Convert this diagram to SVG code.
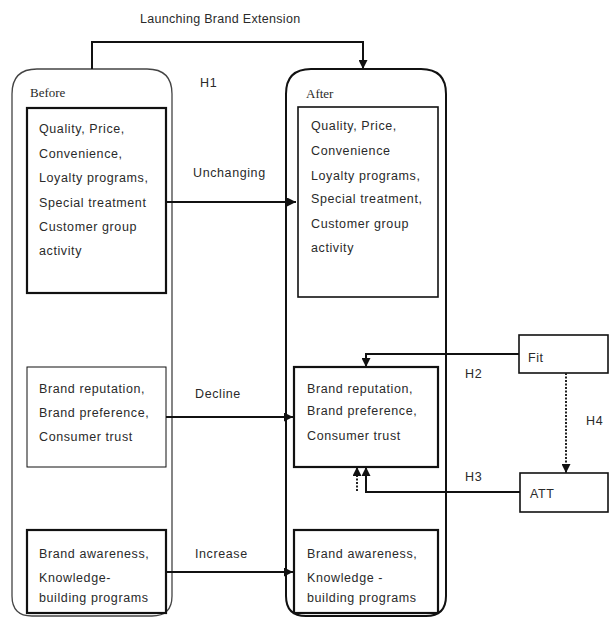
<svg xmlns="http://www.w3.org/2000/svg" width="610" height="619" viewBox="0 0 610 619">
<defs>
<marker id="ah" viewBox="0 0 10 10" refX="10" refY="5" markerWidth="9" markerHeight="9" markerUnits="userSpaceOnUse" orient="auto">
<path d="M0,0 L10,5 L0,10 z" fill="#111"/>
</marker>
</defs>
<style>
text{font-family:"Liberation Sans",Arial,sans-serif;font-size:12.5px;fill:#2a2a2a;letter-spacing:0.6px}
.serif{font-family:"Liberation Serif","Times New Roman",serif;font-size:13px;letter-spacing:0}
.big{fill:none}
.box{fill:#fff;stroke:#111}
.conn{fill:none;stroke:#111;stroke-width:2}
.dot{fill:none;stroke:#222;stroke-width:2;stroke-dasharray:2 1.5}
</style>
<rect width="610" height="619" fill="#fff"/>
<g id="before">
<path class="big" d="M12,94 Q12,69 37,69 L147,69 Q172,69 172,94 L172,596 Q172,616 152,616 L32,616 Q12,616 12,596 Z" stroke="#444" stroke-width="1.3"/>
<text x="30" y="97" class="serif">Before</text>
</g>
<g id="after">
<path class="big" d="M286,94 Q286,69 311,69 L421,69 Q446,69 446,94 L446,596 Q446,616 426,616 L306,616 Q286,616 286,596 Z" stroke="#111" stroke-width="2"/>
<text x="306" y="98" class="serif">After</text>
</g>
<g id="before-core">
<rect class="box" x="27" y="108" width="139" height="185" stroke-width="2.2"/>
<text x="39" y="133">Quality, Price,</text>
<text x="39" y="158">Convenience,</text>
<text x="39" y="182">Loyalty programs,</text>
<text x="39" y="207">Special treatment</text>
<text x="39" y="231">Customer group</text>
<text x="39" y="255">activity</text>
</g>
<g id="after-core">
<rect class="box" x="298" y="107" width="140" height="190" stroke-width="1.6"/>
<text x="311" y="130">Quality, Price,</text>
<text x="311" y="155">Convenience</text>
<text x="311" y="180">Loyalty programs,</text>
<text x="311" y="203">Special treatment,</text>
<text x="311" y="228">Customer group</text>
<text x="311" y="252">activity</text>
</g>
<g id="before-brand">
<rect class="box" x="27" y="367" width="139" height="100" stroke="#555" stroke-width="1"/>
<text x="39" y="393">Brand reputation,</text>
<text x="39" y="417">Brand preference,</text>
<text x="39" y="441">Consumer trust</text>
</g>
<g id="after-brand">
<rect class="box" x="294" y="367" width="144" height="100" stroke-width="2.2"/>
<text x="307" y="393">Brand reputation,</text>
<text x="307" y="415">Brand preference,</text>
<text x="307" y="440">Consumer trust</text>
</g>
<g id="before-aware">
<rect class="box" x="27" y="530" width="139" height="83" stroke-width="2.2"/>
<text x="39" y="558">Brand awareness,</text>
<text x="39" y="582">Knowledge-</text>
<text x="39" y="602">building programs</text>
</g>
<g id="after-aware">
<rect class="box" x="294" y="530" width="144" height="83" stroke-width="2.2"/>
<text x="307" y="558">Brand awareness,</text>
<text x="307" y="582">Knowledge -</text>
<text x="307" y="602">building programs</text>
</g>
<g id="fit">
<rect class="box" x="519" y="335" width="89" height="38" stroke-width="1.6"/>
<text x="528" y="362">Fit</text>
</g>
<g id="att">
<rect class="box" x="520" y="473" width="88" height="39" stroke-width="1.6"/>
<text x="530" y="498">ATT</text>
</g>
<g id="connectors">
<path class="conn" d="M92,69 L92,42 L363,42 L363,69" marker-end="url(#ah)"/>
<path class="conn" d="M166,202 L296,202" marker-end="url(#ah)" stroke-width="1.6"/>
<path class="conn" d="M166,417 L293,417" marker-end="url(#ah)" stroke-width="1.6"/>
<path class="conn" d="M166,572 L293,572" marker-end="url(#ah)" stroke-width="1.6"/>
<path class="conn" d="M519,354 L366,354 L366,367" marker-end="url(#ah)"/>
<path class="conn" d="M520,492 L366,492 L366,467" marker-end="url(#ah)"/>
<path class="dot" d="M357,491 L357,467" marker-end="url(#ah)"/>
<path class="dot" d="M566,373 L566,473" marker-end="url(#ah)"/>
<text x="140" y="23" style="letter-spacing:0.3px">Launching Brand Extension</text>
<text x="200" y="87">H1</text>
<text x="193" y="177">Unchanging</text>
<text x="195" y="398">Decline</text>
<text x="195" y="558">Increase</text>
<text x="465" y="378">H2</text>
<text x="465" y="481">H3</text>
<text x="586" y="425">H4</text>
</g>
</svg>
